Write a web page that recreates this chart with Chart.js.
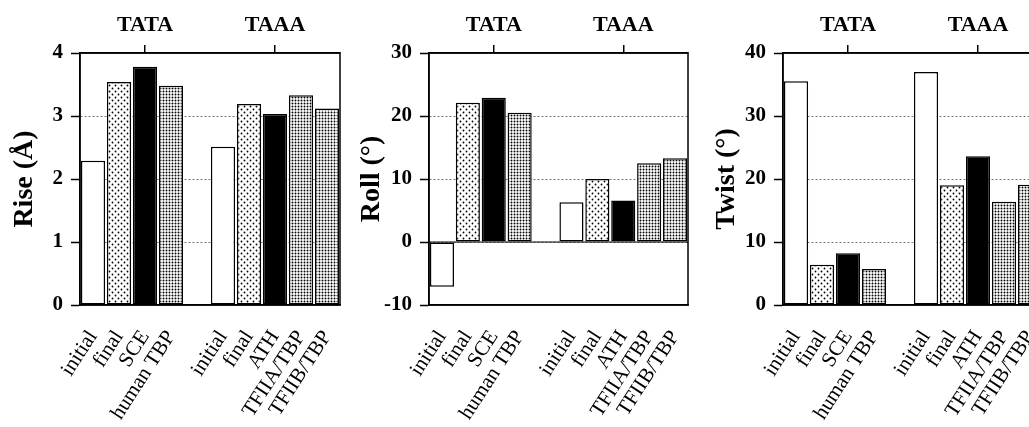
<!DOCTYPE html>
<html>
<head>
<meta charset="utf-8">
<script src="https://cdn.jsdelivr.net/npm/chart.js@4.4.1/dist/chart.umd.min.js"></script>
<style>
  body { margin: 0; background: #fff; width: 1029px; height: 427px; overflow: hidden; position: relative; }
  canvas { position: absolute; top: 0; }
</style>
</head>
<body>
<canvas id="riseChart" width="345" height="427" style="left:0px"></canvas>
<canvas id="rollChart" width="350" height="427" style="left:345px"></canvas>
<canvas id="twistChart" width="350" height="427" style="left:700px"></canvas>
<script>
// data (empty slot separates TATA and TAAA)
const groups = ['TATA', 'TAAA'];
const categories = ['initial', 'final', 'SCE', 'human TBP', '', 'initial', 'final', 'ATH', 'TFIIA/TBP', 'TFIIB/TBP'];
const riseValues = [2.29, 3.54, 3.78, 3.48, null, 2.51, 3.19, 3.03, 3.33, 3.12];
const rollValues = [-7.1, 22.1, 22.9, 20.5, null, 6.3, 10.0, 6.6, 12.5, 13.3];
const twistValues = [35.5, 6.4, 8.2, 5.7, null, 37.0, 19.0, 23.6, 16.4, 19.1];
const fillKinds = ['open', 'sparse', 'solid', 'dense', 'open', 'open', 'sparse', 'solid', 'dense', 'dense'];

Chart.defaults.font.family = "'Liberation Serif', 'Times New Roman', serif";
Chart.defaults.color = '#000';

// dotted fills like the printed figure
const makePattern = (size, dots, r) => {
    const c = document.createElement('canvas');
    c.width = size;
    c.height = size;
    const g = c.getContext('2d');
    g.fillStyle = '#fff';
    g.fillRect(0, 0, size, size);
    g.fillStyle = '#000';
    dots.forEach(([x, y]) => {
        g.beginPath();
        g.arc(x, y, r, 0, Math.PI * 2);
        g.fill();
    });
    return g.createPattern(c, 'repeat');
};

const fills = {
    open: '#fff',
    solid: '#000',
    sparse: makePattern(6, [[1.5, 1.5], [4.5, 4.5]], 0.9),
    dense: makePattern(3, [[1.5, 1.5]], 0.95)
};

const framePlugin = {
    id: 'frame',
    beforeDatasetsDraw(chart) {
        const y = chart.scales.y;
        if (y.min < 0) {
            const { ctx, chartArea: a } = chart;
            const py = y.getPixelForValue(0);
            ctx.save();
            ctx.strokeStyle = '#000';
            ctx.lineWidth = 1.2;
            ctx.beginPath();
            ctx.moveTo(a.left, py);
            ctx.lineTo(a.right, py);
            ctx.stroke();
            ctx.restore();
        }
    },
    afterDatasetsDraw(chart) {
        const { ctx, chartArea: a } = chart;
        ctx.save();
        ctx.strokeStyle = '#000';
        ctx.lineWidth = 1.5;
        ctx.strokeRect(a.left, a.top, a.right - a.left, a.bottom - a.top);
        ctx.restore();
    }
};

const makeChart = (id, values, yMin, yMax, step, title, yWidth, titlePad, rightPad) => {
    const ctx = document.getElementById(id).getContext('2d');
    return new Chart(ctx, {
        type: 'bar',
        data: {
            labels: categories,
            datasets: [{
                data: values,
                backgroundColor: fillKinds.map(k => fills[k]),
                borderColor: '#000',
                borderWidth: 1.5,
                borderSkipped: false,
                barPercentage: 0.93,
                categoryPercentage: 1
            }]
        },
        options: {
            responsive: false,
            animation: false,
            layout: { padding: { left: 0, right: rightPad, top: 0, bottom: 0 } },
            plugins: { legend: { display: false }, tooltip: { enabled: false } },
            scales: {
                x: {
                    type: 'category',
                    position: 'bottom',
                    grid: { display: false },
                    border: { display: true, color: '#000', width: 1.5 },
                    ticks: {
                        autoSkip: false,
                        minRotation: 57,
                        maxRotation: 57,
                        padding: 13,
                        font: { size: 21 }
                    },
                    afterFit: s => {
                        s.height = 122;
                        s.paddingLeft = 0;
                        s.paddingRight = 0;
                    }
                },
                top: {
                    type: 'category',
                    position: 'top',
                    labels: groups,
                    offset: true,
                    grid: {
                        offset: false,
                        drawOnChartArea: false,
                        tickLength: 8,
                        color: '#000',
                        lineWidth: 1.5
                    },
                    border: { display: true, color: '#000', width: 1.5 },
                    ticks: { padding: 6, font: { size: 22, weight: 'bold' } },
                    afterFit: s => {
                        s.height = 53;
                        s.paddingLeft = 0;
                        s.paddingRight = 0;
                    }
                },
                y: {
                    min: yMin,
                    max: yMax,
                    grid: {
                        color: '#777',
                        lineWidth: 1,
                        tickColor: '#000',
                        tickWidth: 1.5,
                        tickLength: 9
                    },
                    border: { display: true, color: '#000', width: 1.5, dash: [2, 2] },
                    ticks: {
                        stepSize: step,
                        padding: 8,
                        font: { size: 21, weight: 'bold' }
                    },
                    title: {
                        display: true,
                        text: title,
                        font: { size: 28, weight: 'bold' },
                        padding: { top: titlePad, bottom: 0 }
                    },
                    afterFit: s => { s.width = yWidth; }
                }
            }
        },
        plugins: [framePlugin]
    });
};

makeChart('riseChart', riseValues, 0, 4, 1, 'Rise (Å)', 80, 8, 5);
makeChart('rollChart', rollValues, -10, 30, 10, 'Roll (°)', 84, 10, 7);
makeChart('twistChart', twistValues, 0, 40, 10, 'Twist (°)', 83, 10, 7);
</script>
</body>
</html>
